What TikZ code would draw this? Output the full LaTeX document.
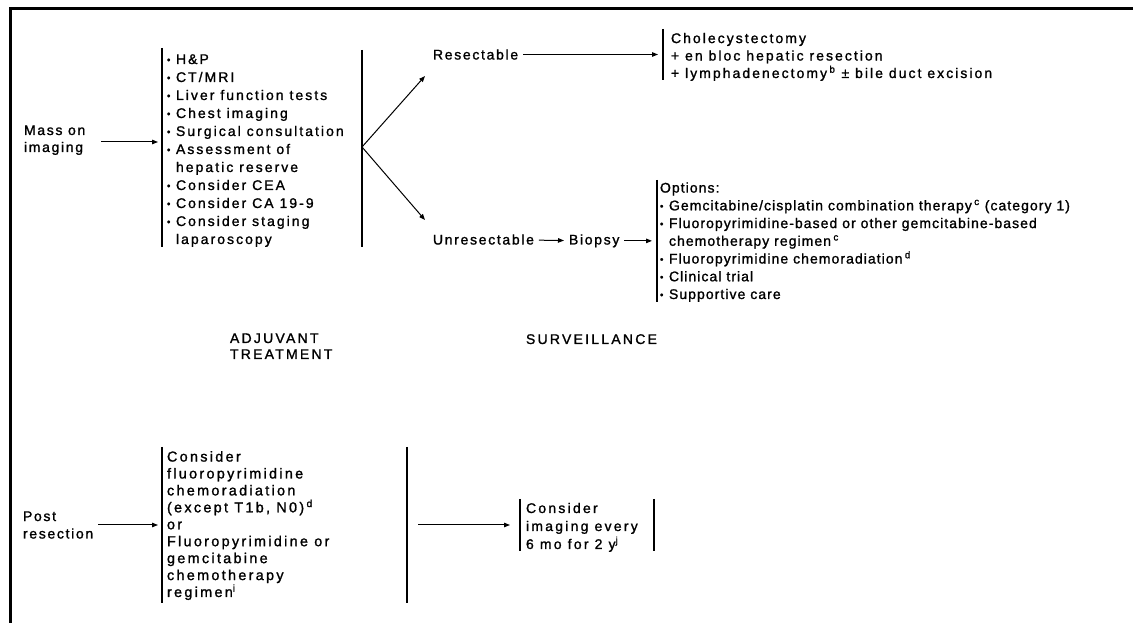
\documentclass[tikz,border=0pt]{standalone}
\usepackage{fontspec}
\setmainfont[LetterSpace=12,FakeBold=1.3]{Liberation Sans}
\newfontfamily\widefont[LetterSpace=14.5,FakeBold=1.3]{Liberation Sans}
\newfontfamily\tightfont[LetterSpace=7.5,FakeBold=1.3]{Liberation Sans}
\newfontfamily\headfont[LetterSpace=16,FakeBold=1.3]{Liberation Sans}
\usetikzlibrary{arrows.meta}
\newcommand{\bul}{\makebox[6.75pt][l]{\raisebox{0.6pt}{\scalebox{0.7}{\textbullet}}}}
\newcommand{\hang}{\hspace*{6.75pt}}

\begin{document}
\begin{tikzpicture}[x=0.75pt,y=-0.75pt,
  font=\fontsize{10.5}{13.1}\selectfont,
  txt/.style={anchor=base west,inner sep=0pt,outer sep=0pt,align=left},
  bar/.style={line width=1.3pt},
  arr/.style={-{Triangle[length=4.5pt,width=3.4pt]},line width=0.75pt}]
\useasboundingbox (0,0) rectangle (1133,623);
\draw[line width=2.25pt] (10.5,623) -- (10.5,8.5) -- (1133,8.5);

\coordinate (inA) at (158,142);
\coordinate (fork) at (362,147);
\coordinate (upA) at (425,76);
\coordinate (dnA) at (425,220);
\coordinate (inB) at (658,55);
\coordinate (inC) at (652,240);
\coordinate (inD) at (158,525);
\coordinate (outE) at (418,525);
\coordinate (inF) at (510,525);

\node[txt,font=\fontsize{10.5}{12.75}\selectfont] (mass) at (24,152) {Mass on\\imaging};
\node[txt,font=\widefont\fontsize{10.5}{13.5}\selectfont] (lstA) at (167,244) {\bul H\&P\\
  \bul CT/MRI\\
  \bul Liver function tests\\
  \bul Chest imaging\\
  \bul Surgical consultation\\
  \bul Assessment of\\
  \hang hepatic reserve\\
  \bul Consider CEA\\
  \bul Consider CA 19-9\\
  \bul Consider staging\\
  \hang laparoscopy};
\node[txt] (res) at (433,59.5) {Resectable};
\node[txt,font=\widefont\fontsize{10.5}{13.1}\selectfont] (surg) at (671,78) {Cholecystectomy\\
  + en bloc hepatic resection\\
  + lymphadenectomy\,\textsuperscript{b} ± bile duct excision};
\node[txt] (unres) at (433,244.5) {Unresectable};
\node[txt] (bx) at (569,244.5) {Biopsy};
\node[txt,font=\tightfont\fontsize{10.5}{13.3}\selectfont] (opt) at (660,299) {Options:\\
  \bul Gemcitabine/cisplatin combination therapy\,\textsuperscript{c} (category 1)\\
  \bul Fluoropyrimidine-based or other gemcitabine-based\\
  \hang chemotherapy regimen\,\textsuperscript{c}\\
  \bul Fluoropyrimidine chemoradiation\,\textsuperscript{d}\\
  \bul Clinical trial\\
  \bul Supportive care};
\node[txt,font=\headfont\fontsize{10.5}{12}\selectfont] (adjh) at (230,359) {ADJUVANT\\TREATMENT};
\node[txt,font=\headfont\fontsize{10.5}{12}\selectfont] (survh) at (526,344) {SURVEILLANCE};
\node[txt] (post) at (23,538.5) {Post\\resection};
\node[txt,font=\headfont\fontsize{10.8}{12.7}\selectfont] (adj) at (167,597) {Consider\\
  fluoropyrimidine\\
  chemoradiation\\
  (except T1b, N0)\,\textsuperscript{d}\\
  or\\
  Fluoropyrimidine or\\
  gemcitabine\\
  chemotherapy\\
  regimen\textsuperscript{i}};
\node[txt,font=\headfont\fontsize{10.5}{13.5}\selectfont] (surv) at (526,549) {Consider\\imaging every\\6 mo for 2 y\textsuperscript{j}};

\draw[bar] (162,48) -- (162,247);
\draw[bar] (362,50) -- (362,247);
\draw[bar] (663,29) -- (663,80);
\draw[bar] (657,180) -- (657,302);
\draw[bar] (162,447) -- (162,603);
\draw[bar] (407,447) -- (407,603);
\draw[bar] (520,499) -- (520,551);
\draw[bar] (654,499) -- (654,551);

\draw[arr,shorten <=12pt] (mass.east |- inA) -- (inA);
\draw[arr] (fork) -- (upA);
\draw[arr] (fork) -- (dnA);
\draw[arr,shorten <=3.75pt] (res) -- (res -| inB);
\draw[arr,shorten <=3.75pt,shorten >=3.75pt] (unres) -- (bx);
\draw[arr,shorten <=3.75pt] (bx) -- (bx -| inC);
\draw[arr,shorten <=3.75pt] (post.east |- inD) -- (inD);
\draw[arr] (outE) -- (inF);
\end{tikzpicture}
\end{document}
